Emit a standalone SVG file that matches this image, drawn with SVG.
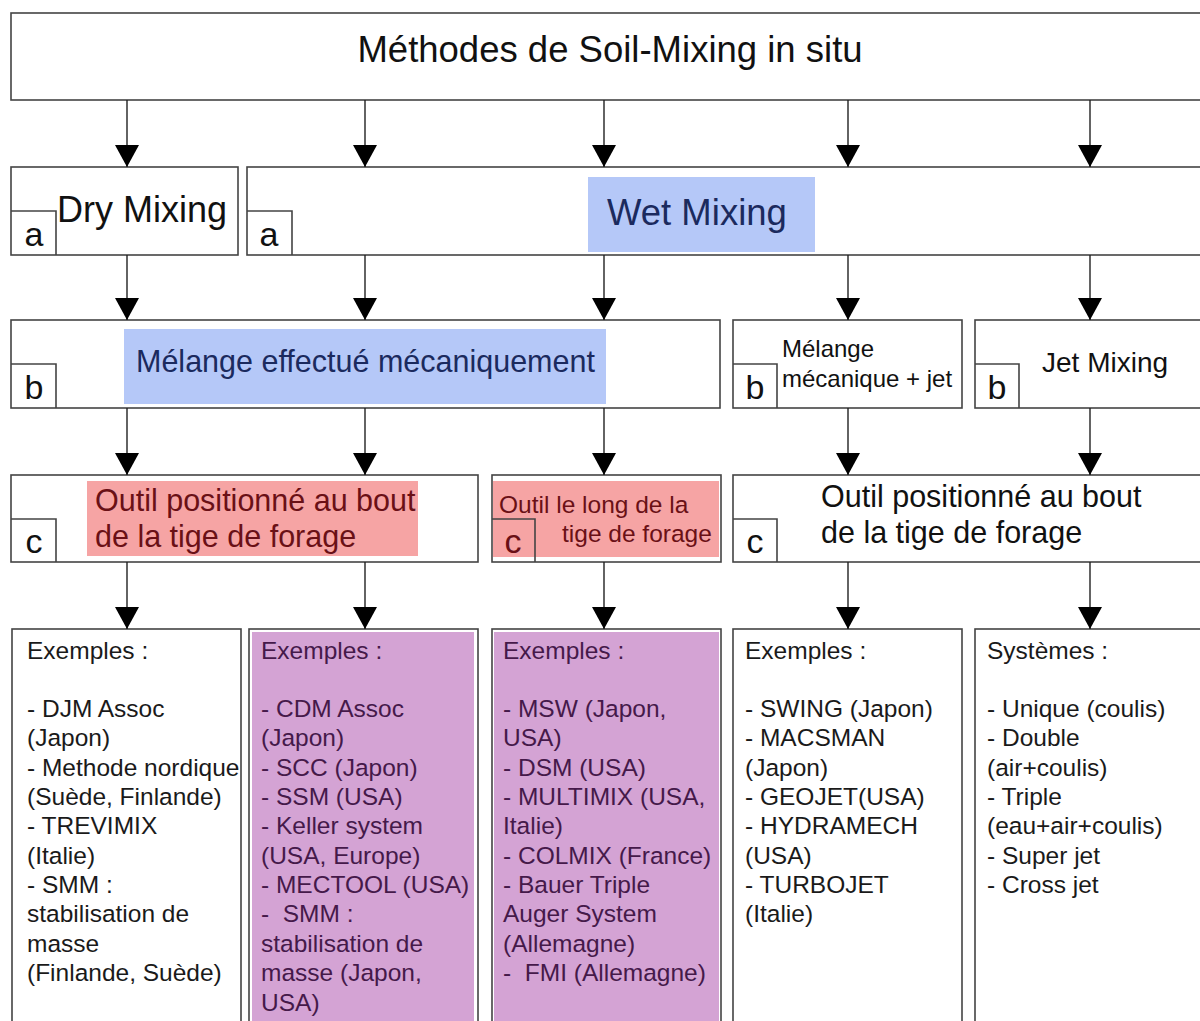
<svg xmlns="http://www.w3.org/2000/svg" width="1200" height="1021" viewBox="0 0 1200 1021">
<defs>
<marker id="ah" viewBox="0 0 22 24" refX="22" refY="12" markerWidth="22" markerHeight="24" markerUnits="userSpaceOnUse" orient="auto">
<path d="M0,0 L22,12 L0,24 z" fill="#000"/>
</marker>
<style>
.box{fill:#fff;stroke:#444;stroke-width:1.6}
.tag{fill:none;stroke:#444;stroke-width:1.6}
.t{font-family:"Liberation Sans",Arial,sans-serif;fill:#111}
.lbl{font-family:"Liberation Sans",Arial,sans-serif;font-size:34px;fill:#111;text-anchor:middle}
.conn line{stroke:#222;stroke-width:1.4;marker-end:url(#ah)}
.blue{fill:#b5c8f8}
.pink{fill:#f6a4a4}
.purple{fill:#d4a3d4}
.tb{fill:#1b2a5e}
.tp{fill:#6a1016}
.tv{fill:#45194a}
.ex{font-family:"Liberation Sans",Arial,sans-serif;font-size:24.5px;white-space:pre}
</style>
</defs>
<rect width="1200" height="1021" fill="#fff"/>

<g id="root">
<rect class="box" x="11" y="13" width="1200" height="87"/>
<text class="t" x="610" y="62" font-size="36.5" text-anchor="middle">Méthodes de Soil-Mixing in situ</text>
</g>

<g id="dry">
<rect class="box" x="11" y="167" width="227" height="88"/>
<path class="tag" d="M11,211 H56 V255"/>
<text class="lbl" x="34" y="246">a</text>
<text class="t" x="57" y="222" font-size="36">Dry Mixing</text>
</g>

<g id="wet">
<rect class="box" x="247" y="167" width="965" height="88"/>
<path class="tag" d="M247,211 H292 V255"/>
<text class="lbl" x="269" y="246">a</text>
<rect class="blue" x="588" y="177" width="227" height="75"/>
<text class="t tb" x="607" y="225" font-size="36.5">Wet Mixing</text>
</g>

<g id="meca">
<rect class="box" x="11" y="320" width="709" height="88"/>
<path class="tag" d="M11,364 H56 V408"/>
<text class="lbl" x="34" y="399">b</text>
<rect class="blue" x="124" y="329" width="482" height="75"/>
<text class="t tb" x="136" y="372" font-size="30.5">Mélange effectué mécaniquement</text>
</g>

<g id="mecajet">
<rect class="box" x="733" y="320" width="229" height="88"/>
<path class="tag" d="M733,364 H777 V408"/>
<text class="lbl" x="755" y="399">b</text>
<text class="t" x="782" y="357" font-size="24">Mélange</text>
<text class="t" x="782" y="387" font-size="24">mécanique + jet</text>
</g>

<g id="jet">
<rect class="box" x="975" y="320" width="240" height="88"/>
<path class="tag" d="M975,364 H1019 V408"/>
<text class="lbl" x="997" y="399">b</text>
<text class="t" x="1042" y="372" font-size="28">Jet Mixing</text>
</g>

<g id="outil1">
<rect class="box" x="11" y="475" width="467" height="87"/>
<rect class="pink" x="87" y="481" width="331" height="75"/>
<path class="tag" d="M11,519 H56 V562"/>
<text class="lbl" x="34" y="553">c</text>
<text class="t tp" x="95" y="511" font-size="30.5">Outil positionné au bout</text>
<text class="t tp" x="95" y="547" font-size="30.5">de la tige de forage</text>
</g>

<g id="outil2">
<rect class="box" x="492" y="475" width="229" height="87"/>
<rect class="pink" x="493" y="481" width="226" height="76"/>
<path class="tag" d="M492,519 H535 V562"/>
<text class="lbl tp" x="513" y="553">c</text>
<text class="t tp" x="499" y="513" font-size="24.5">Outil le long de la</text>
<text class="t tp" x="562" y="542" font-size="24.5">tige de forage</text>
</g>

<g id="outil3">
<rect class="box" x="733" y="475" width="480" height="87"/>
<path class="tag" d="M733,519 H777 V562"/>
<text class="lbl" x="755" y="553">c</text>
<text class="t" x="821" y="507" font-size="30.5">Outil positionné au bout</text>
<text class="t" x="821" y="543" font-size="30.5">de la tige de forage</text>
</g>

<g id="ex1">
<rect class="box" x="12" y="629" width="229" height="420"/>
<text class="ex" fill="#1a1a1a" x="27" y="659">Exemples :<tspan x="27" y="717">- DJM Assoc</tspan><tspan x="27" dy="29.35">(Japon)</tspan><tspan x="27" dy="29.35">- Methode nordique</tspan><tspan x="27" dy="29.35">(Suède, Finlande)</tspan><tspan x="27" dy="29.35">- TREVIMIX</tspan><tspan x="27" dy="29.35">(Italie)</tspan><tspan x="27" dy="29.35">- SMM :</tspan><tspan x="27" dy="29.35">stabilisation de</tspan><tspan x="27" dy="29.35">masse</tspan><tspan x="27" dy="29.35">(Finlande, Suède)</tspan></text>
</g>

<g id="ex2">
<rect class="box" x="249" y="629" width="229" height="420"/>
<rect class="purple" x="252" y="632" width="222" height="420"/>
<text class="ex tv" x="261" y="659">Exemples :<tspan x="261" y="717">- CDM Assoc</tspan><tspan x="261" dy="29.35">(Japon)</tspan><tspan x="261" dy="29.35">- SCC (Japon)</tspan><tspan x="261" dy="29.35">- SSM (USA)</tspan><tspan x="261" dy="29.35">- Keller system</tspan><tspan x="261" dy="29.35">(USA, Europe)</tspan><tspan x="261" dy="29.35">- MECTOOL (USA)</tspan><tspan x="261" dy="29.35">-  SMM :</tspan><tspan x="261" dy="29.35">stabilisation de</tspan><tspan x="261" dy="29.35">masse (Japon,</tspan><tspan x="261" dy="29.35">USA)</tspan></text>
</g>

<g id="ex3">
<rect class="box" x="492" y="629" width="229" height="420"/>
<rect class="purple" x="494" y="632" width="225" height="420"/>
<text class="ex tv" x="503" y="659">Exemples :<tspan x="503" y="717">- MSW (Japon,</tspan><tspan x="503" dy="29.35">USA)</tspan><tspan x="503" dy="29.35">- DSM (USA)</tspan><tspan x="503" dy="29.35">- MULTIMIX (USA,</tspan><tspan x="503" dy="29.35">Italie)</tspan><tspan x="503" dy="29.35">- COLMIX (France)</tspan><tspan x="503" dy="29.35">- Bauer Triple</tspan><tspan x="503" dy="29.35">Auger System</tspan><tspan x="503" dy="29.35">(Allemagne)</tspan><tspan x="503" dy="29.35">-  FMI (Allemagne)</tspan></text>
</g>

<g id="ex4">
<rect class="box" x="733" y="629" width="229" height="420"/>
<text class="ex" fill="#1a1a1a" x="745" y="659">Exemples :<tspan x="745" y="717">- SWING (Japon)</tspan><tspan x="745" dy="29.35">- MACSMAN</tspan><tspan x="745" dy="29.35">(Japon)</tspan><tspan x="745" dy="29.35">- GEOJET(USA)</tspan><tspan x="745" dy="29.35">- HYDRAMECH</tspan><tspan x="745" dy="29.35">(USA)</tspan><tspan x="745" dy="29.35">- TURBOJET</tspan><tspan x="745" dy="29.35">(Italie)</tspan></text>
</g>

<g id="ex5">
<rect class="box" x="975" y="629" width="240" height="420"/>
<text class="ex" fill="#1a1a1a" x="987" y="659">Systèmes :<tspan x="987" y="717">- Unique (coulis)</tspan><tspan x="987" dy="29.35">- Double</tspan><tspan x="987" dy="29.35">(air+coulis)</tspan><tspan x="987" dy="29.35">- Triple</tspan><tspan x="987" dy="29.35">(eau+air+coulis)</tspan><tspan x="987" dy="29.35">- Super jet</tspan><tspan x="987" dy="29.35">- Cross jet</tspan></text>
</g>

<g id="connectors" class="conn">
<line x1="127" y1="100" x2="127" y2="167"/>
<line x1="365" y1="100" x2="365" y2="167"/>
<line x1="604" y1="100" x2="604" y2="167"/>
<line x1="848" y1="100" x2="848" y2="167"/>
<line x1="1090" y1="100" x2="1090" y2="167"/>
<line x1="127" y1="255" x2="127" y2="320"/>
<line x1="365" y1="255" x2="365" y2="320"/>
<line x1="604" y1="255" x2="604" y2="320"/>
<line x1="848" y1="255" x2="848" y2="320"/>
<line x1="1090" y1="255" x2="1090" y2="320"/>
<line x1="127" y1="408" x2="127" y2="475"/>
<line x1="365" y1="408" x2="365" y2="475"/>
<line x1="604" y1="408" x2="604" y2="475"/>
<line x1="848" y1="408" x2="848" y2="475"/>
<line x1="1090" y1="408" x2="1090" y2="475"/>
<line x1="127" y1="562" x2="127" y2="629"/>
<line x1="365" y1="562" x2="365" y2="629"/>
<line x1="604" y1="562" x2="604" y2="629"/>
<line x1="848" y1="562" x2="848" y2="629"/>
<line x1="1090" y1="562" x2="1090" y2="629"/>
</g>
</svg>
